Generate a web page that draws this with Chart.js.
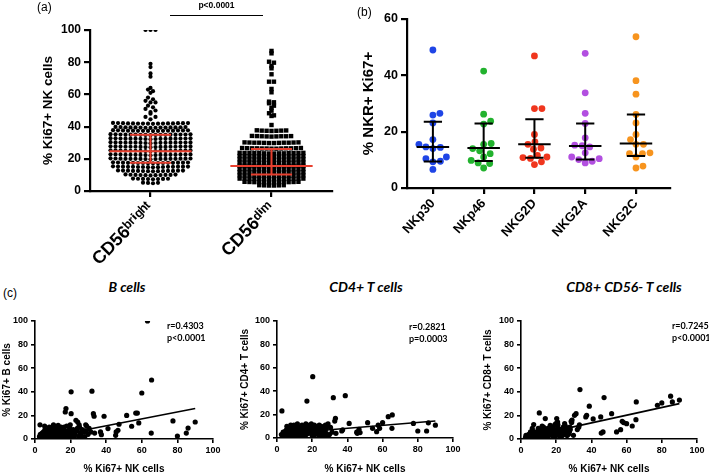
<!DOCTYPE html>
<html><head><meta charset="utf-8">
<script src="https://cdn.jsdelivr.net/npm/chart.js@4/dist/chart.umd.min.js"></script>
<style>
html,body{margin:0;padding:0;background:#fff;}
#wrap{position:relative;width:709px;height:474px;overflow:hidden;background:#fff;font-family:"Liberation Sans",Arial,sans-serif;color:#000;}
canvas{position:absolute;}
.lbl{position:absolute;white-space:nowrap;line-height:1;}
.ttl{font-family:Lato,"Open Sans",sans-serif;font-weight:bold;font-style:italic;font-size:14px;text-align:center;}
.rp{font-family:Lato,"Open Sans",sans-serif;font-weight:bold;font-size:9px;line-height:12px;}
</style></head><body>
<div id="wrap">
<canvas id="cA" width="345" height="270" style="left:0;top:0"></canvas>
<canvas id="cB" width="359" height="240" style="left:350px;top:0"></canvas>
<canvas id="cC1" width="235" height="169" style="left:0;top:305px"></canvas>
<canvas id="cC2" width="235" height="169" style="left:235px;top:305px"></canvas>
<canvas id="cC3" width="239" height="169" style="left:470px;top:305px"></canvas>
<div class="lbl" style="left:37px;top:1px;font-size:12px">(a)</div>
<div class="lbl" style="left:170px;top:1px;width:93px;text-align:center;font-size:8.5px;font-weight:bold">p&lt;0.0001</div>
<div style="position:absolute;left:170px;top:15px;width:93px;height:0;border-top:1.3px solid #000"></div>
<div class="lbl" style="left:357px;top:6px;font-size:12px">(b)</div>
<div class="lbl" style="left:3px;top:287px;font-size:12px">(c)</div>
<div class="lbl ttl" style="left:27px;width:200px;top:280px">B cells</div>
<div class="lbl ttl" style="left:266px;width:200px;top:280px">CD4+ T cells</div>
<div class="lbl ttl" style="left:524px;width:200px;top:280px">CD8+ CD56- T cells</div>
<div class="lbl rp" style="left:167px;top:320px">r=0.4303<br>p&lt;0.0001</div>
<div class="lbl rp" style="left:409px;top:321px">r=0.2821<br>p=0.0003</div>
<div class="lbl rp" style="left:672px;top:320px">r=0.7245<br>p&lt;0.0001</div>
</div>
<script>
// ---------------- DATA ----------------
// (a) % Ki67+ NK cells  (CD56 with superscript "bright" / "dim")
const catsA = ['CD56\u1D47\u02B3\u2071\u1D4D\u02B0\u1D57', 'CD56\u1D48\u2071\u1D50'];
const brightVals = [
 100,100,100,79,77,73,71,64,63,62,61,58,57,56,55,55,53,52,51,50,49,48,46,46,44.5,
 41.7,41.8,41.9,42,42,42.1,42.2,42.3,41.8,41.9,42,42.1,42.2,41.9,42,42.1,
 39.2,39.3,39.4,39.5,39.5,39.6,39.7,39.8,39.3,39.4,39.5,39.6,39.7,39.5,39.4,
 37.2,37.3,37.4,37.5,37.5,37.6,37.7,37.8,37.3,37.4,37.5,37.6,37.7,37.5,37.4,37.6,
 34.7,34.8,34.9,35,35,35.1,35.2,35.3,34.8,34.9,35,35.1,35.2,35,34.9,35.1,35,
 32.2,32.3,32.4,32.5,32.5,32.6,32.7,32.8,32.3,32.4,32.5,32.6,32.7,32.5,32.4,32.6,32.5,
 29.7,29.8,29.9,30,30,30.1,30.2,30.3,29.8,29.9,30,30.1,30.2,30,29.9,30.1,30,
 27.2,27.3,27.4,27.5,27.5,27.6,27.7,27.8,27.3,27.4,27.5,27.6,27.7,27.5,27.4,27.6,27.5,
 24.7,24.8,24.9,25,25,25.1,25.2,25.3,24.8,24.9,25,25.1,25.2,25,24.9,25.1,25,
 22.2,22.3,22.4,22.5,22.5,22.6,22.7,22.8,22.3,22.4,22.5,22.6,22.7,22.5,22.4,22.6,22.5,
 19.7,19.8,19.9,20,20,20.1,20.2,20.3,19.8,19.9,20,20.1,20.2,20,19.9,20.1,20,
 17.2,17.3,17.4,17.5,17.5,17.6,17.7,17.8,17.3,17.4,17.5,17.6,17.7,17.5,17.4,17.6,
 14.7,14.8,14.9,15,15,15.1,15.2,15.3,14.8,14.9,15,15.1,15.2,15,14.9,15.1,
 12.2,12.3,12.4,12.5,12.5,12.6,12.7,12.8,12.3,12.4,12.5,12.6,12.7,12.5,
 9.7,9.8,9.9,10,10,10.1,10.2,10.3,9.8,9.9,10,
 7.3,7.4,7.5,7.5,7.6,7.7,7.4,7.6,
 4.8,5,5.1,5.2
];
const dimVals = [
 87,85.5,80.3,79.7,77.6,76.2,72.5,67.9,67.9,63.4,61.3,55.5,55.1,54.5,53,51.7,49.9,48.3,47,46.6,41,
 37.3,37.4,37.5,37.5,37.6,37.7,37.4,
 33.8,33.9,34,34,34.1,34.2,33.9,34.1,34,
 29.8,29.9,30,30,30.1,30.2,29.8,29.9,30,30.1,30.2,30,
 26.3,26.4,26.5,26.5,26.6,26.7,26.3,26.4,26.5,26.6,26.7,26.5,26.4,
 23.3,23.4,23.5,23.5,23.6,23.7,23.3,23.4,23.5,23.6,23.7,23.5,23.4,23.6,
 21.3,21.4,21.5,21.5,21.6,21.7,21.3,21.4,21.5,21.6,21.7,21.5,21.4,21.6,
 19.3,19.4,19.5,19.5,19.6,19.7,19.3,19.4,19.5,19.6,19.7,19.5,19.4,19.6,
 17.3,17.4,17.5,17.5,17.6,17.7,17.3,17.4,17.5,17.6,17.7,17.5,17.4,17.6,
 15.3,15.4,15.5,15.5,15.6,15.7,15.3,15.4,15.5,15.6,15.7,15.5,15.4,15.6,
 13.3,13.4,13.5,13.5,13.6,13.7,13.3,13.4,13.5,13.6,13.7,13.5,13.4,13.6,
 11.3,11.4,11.5,11.5,11.6,11.7,11.3,11.4,11.5,11.6,11.7,11.5,11.4,11.6,
 9.3,9.4,9.5,9.5,9.6,9.7,9.3,9.4,9.5,9.6,9.7,9.5,9.4,9.6,
 7.3,7.4,7.5,7.5,7.6,7.7,7.3,7.4,7.5,7.6,7.7,7.5,7.4,7.6,
 5.3,5.4,5.5,5.5,5.6,5.7,5.3,5.4,5.5,5.6,5.7,5.5,
 3.4,3.5,3.5,3.6,3.4,3.6
];
const medA = [24.7, 15.6];
const q1A = [17.5, 10.3];
const q3A = [34.9, 26.1];

// (b) % NKR+ Ki67+
const catsB = ['NKp30', 'NKp46', 'NKG2D', 'NKG2A', 'NKG2C'];
const nkp30 = [49, 26.5, 25.9, 23.1, 17.2, 15.5, 14.6, 14.4, 14.0, 11, 10.4, 9.5, 9.3, 6.6];
const nkp46 = [41.5, 26.2, 23.7, 22.7, 15.8, 15.5, 14, 13.2, 12.2, 11, 9.8, 8.9, 8.7, 7.1];
const nkg2d = [46.9, 28.2, 28.2, 19, 16.4, 15.5, 14.2, 13.8, 11.6, 11, 10.8, 10.5, 9.3, 8.3];
const nkg2a = [47.8, 33.8, 26.5, 22.9, 17.8, 15.2, 15, 14.6, 12.5, 11, 10.4, 10.1, 9.5, 8.9];
const nkg2c = [53.7, 38.1, 33.3, 26.1, 23.1, 19, 17.2, 15.5, 15.5, 12.5, 12.2, 12.2, 11, 7.8, 7.1];
const medB = [14.6, 14.2, 15.5, 14.9, 15.8];
const q1B = [9.4, 9.6, 10.7, 10.1, 11.4];
const q3B = [23.5, 22.9, 24.4, 22.9, 26.1];
const colorsB = ['#1f45e6', '#22b22e', '#f0361e', '#b24fe0', '#f7941e'];

// (c) correlations, x = % Ki67+ NK cells
const nkX = [90,86,85,80,77.5,65.5,65.3,63.2,60,58.3,
 57.5,56.6,54.3,51.5,47.2,46.6,45.6,45.3,41,38.8,
 37.3,36.8,33.5,33.2,32.8,32,31.3,30.4,29.8,28.5,
 28,27.5,27,26.5,26,25.5,25,24.5,24,23.5,
 23,22.5,22,21.5,21,20.8,20.3,20.3,20,19.5,
 19,18.5,18,17.8,17.4,17,16.6,16.2,16,15.5,
 15,14.6,14.2,13.8,13.4,13,12.6,12.2,11.8,11.4,
 11,10.6,10.4,10,9.6,9.2,8.8,8.4,8,7.6,
 7.2,6.8,6.4,6,5.6,5.2,4.8,4.4,4,3.5,
 3,2.8,2.5,27.8,26.2,25.2,23.8,22.2,21.2,19.8,
 18.8,17.6,16.4,15.2,14,12.8,11.6,10.2,9,7.8,
 6.6,5.4,4.2,29,28.8,24.8,19.2,14.8,12,9.8];
const bCells = [14.4,9.3,5,2.5,15.3,50,5,100,39,13.6,
 22,22,10.8,20,12.5,7.4,6,3.1,8.8,19.3,
 3.7,6,5,19.3,21.5,40.5,6,9,4,12,
 2,6,1,8,3,5,10,2,14.4,7,
 15.9,4,1,8,3,6,40,21.5,5,9,
 2,7,4,11,25.8,22.9,6,3,8,1,
 5,10,2,7,4,11.5,1,6,3,9,
 5,2,12,4,8,1,6,3,10,2,
 5,7,1,4,8,3,6,2,5,1,
 4,12,2,7,1,4,9,6,2,12,
 5,1,10,7,3,9,2,11,3,9,
 3,11,0.5,11,7,12,0.5,4,7,0.5];
const cd4T = [11,13,6,6,12.5,19.7,8.3,18.2,13.1,8.3,
 11,5.4,8.3,13.1,4.6,7.4,4,5,12.5,36.2,
 7,6,4,16.8,14.5,34.5,5,9,3,10,
 4,11,2,6,9,3,7,5,11,4,
 8,6,10,3,7,5,52.4,8,2,12,
 6,9,4,7,11,31.6,3,10,5,8,
 2,6,11,4,7,3,9,5,2,10,
 6,4,8,3,11,5,2,7,4,9,
 3,6,8,2,10,4,6,1,3,5,
 2,23.1,3,8,1,10,2,7,11,4,
 10,5,12,1,9,6,12,1,8,11,
 1,7,4,12,1,1,9,3,2,6];
const cd8T = [33,31.4,36.3,30.6,28.6,31.4,16.4,11,13,13.9,
 15,7.9,6,21.5,35.1,6,5,18.7,17,27.8,
 20.1,18.7,41.9,12,10,8,21.5,20.1,3.1,15,
 8,6,4,9,5,7,4,6,10,3,
 5,8,4,6,12,14.4,17.3,5,3,7,
 4,9,6,3,8,5,11.6,4,6,2,
 7,3,5,17.3,4,2,6,3,8,1,
 4,2,22.1,5,2,3,6,1,4,2,
 12.2,3,9,5,2,1,3,4,2,1,
 2,3,1,10,3,11,7,2,9,13,
 2,10,6,9,7,10,6,7,4,5,
 7,6,3,16,14,13,12,1,11,9];
const fitX = [2.5, 90];
const fitB = [0.2, 25.8];
const fitCD4 = [3.6, 14.5];
const fitCD8 = [1.4, 30];

// ---------------- HELPERS ----------------
const FONT = "'Liberation Sans', 'DejaVu Sans'";
const RED = '#e8402f';

function rowOffsets(vals, bin, spacing) {
  const groups = {};
  vals.forEach((v, i) => { const k = Math.round(v / bin); (groups[k] = groups[k] || []).push(i); });
  const off = new Array(vals.length).fill(0);
  Object.values(groups).forEach(idx => {
    idx.sort((a, b) => vals[a] - vals[b]);
    const n = idx.length;
    idx.forEach((i, j) => {
      let slot;
      if (n % 2 === 1) slot = j === 0 ? 0 : (j % 2 === 1 ? (j + 1) / 2 : -j / 2);
      else { const m = Math.floor(j / 2); slot = (j % 2 === 0 ? 1 : -1) * (m + 0.5); }
      off[i] = slot * spacing;
    });
  });
  return off;
}
function swarmOffsets(vals, pxPerY, diam) {
  const placed = [];
  const order = vals.map((v, i) => i).sort((a, b) => vals[a] - vals[b]);
  const out = new Array(vals.length).fill(0);
  order.forEach(i => {
    const py = vals[i] * pxPerY;
    let best = 0;
    for (let k = 0; k < 400; k++) {
      const cands = k === 0 ? [0] : [k * 0.5, -k * 0.5];
      let found = null;
      for (const c of cands) {
        if (placed.every(p => Math.hypot(p.px - c, p.py - py) >= diam)) { found = c; break; }
      }
      if (found !== null) { best = found; break; }
    }
    placed.push({ px: best, py });
    out[i] = best;
  });
  return out;
}
function errorBars(centers, med, q1, q3, halfMed, halfCap) {
  const d = [];
  const gap = { x: null, y: null };
  centers.forEach((c, i) => {
    d.push({ x: c - halfMed, y: med[i] }, { x: c + halfMed, y: med[i] }, gap,
           { x: c, y: q1[i] }, { x: c, y: q3[i] }, gap,
           { x: c - halfCap, y: q1[i] }, { x: c + halfCap, y: q1[i] }, gap,
           { x: c - halfCap, y: q3[i] }, { x: c + halfCap, y: q3[i] }, gap);
  });
  return d;
}
function axis(o) {
  const a = {
    type: 'linear', min: o.min, max: o.max,
    afterFit: o.fit,
    ticks: { stepSize: o.step, color: '#000', font: { family: FONT, weight: 'bold', size: o.fs },
      padding: o.tp, autoSkip: false, maxRotation: o.rot || 0, minRotation: o.rot || 0,
      callback: o.cb || (v => v) },
    grid: { drawOnChartArea: false, drawTicks: true, tickLength: o.tl, tickWidth: o.lw,
      tickColor: '#000', color: '#000', lineWidth: o.lw },
    border: { display: true, color: '#000', width: o.lw },
    title: o.title ? { display: true, text: o.title, color: '#000',
      font: { family: FONT, weight: 'bold', size: o.tfs, lineHeight: o.tlh || 1.2 }, padding: o.tpad } : { display: false }
  };
  if (o.ticksAt) a.afterBuildTicks = s => { s.ticks = o.ticksAt.map(v => ({ value: v })); };
  return a;
}
const baseOpts = { responsive: false, animation: false, devicePixelRatio: 1,
  plugins: { legend: { display: false }, tooltip: { enabled: false } } };

// ---------------- PANEL A ----------------
const offBright = rowOffsets(brightVals, 2.5, 0.0413);
const offDim = rowOffsets(dimVals, 2, 0.0405);

new Chart(document.getElementById('cA'), {
  type: 'scatter',
  data: { datasets: [
    { data: errorBars([0, 1], medA, q1A, q3A, 0.34, 0.17), showLine: true, borderColor: RED, borderWidth: 2, pointRadius: 0, spanGaps: false, order: 0 },
    { data: brightVals.map((v, i) => ({ x: 0 + offBright[i], y: v })), pointStyle: 'circle', pointRadius: 2.1, backgroundColor: '#000', borderWidth: 0, order: 1 },
    { data: dimVals.map((v, i) => ({ x: 1 + offDim[i], y: v })), pointStyle: 'rect', pointRadius: 3.1, backgroundColor: '#000', borderWidth: 0, order: 1 }
  ] },
  options: Object.assign({}, baseOpts, {
    layout: { padding: { left: 0, top: 30, right: 13, bottom: 0 } },
    scales: {
      x: axis({ min: -0.5, max: 1.5, ticksAt: [0, 1], cb: v => catsA[v], fs: 18, tp: 1, tl: 6, lw: 2.2, rot: 46, fit: s => { s.height = 79; } }),
      y: axis({ min: 0, max: 100, step: 20, fs: 12, tp: 3, tl: 6, lw: 2.2, fit: s => { s.width = 90; },
        title: '% Ki67+ NK cells', tfs: 13.5, tpad: { top: 40, bottom: 0 } })
    }
  })
});

// ---------------- PANEL B ----------------
const groupsB = [nkp30, nkp46, nkg2d, nkg2a, nkg2c];
const pxPerXB = 50.8, pxPerYB = 2.81;
const dsB = groupsB.map((vals, gi) => {
  const off = swarmOffsets(vals, pxPerYB, 7.2);
  return { data: vals.map((v, i) => ({ x: gi + off[i] / pxPerXB, y: v })), pointStyle: 'circle',
    pointRadius: 3.4, backgroundColor: colorsB[gi], borderWidth: 0, order: 1 };
});
dsB.unshift({ data: errorBars([0, 1, 2, 3, 4], medB, q1B, q3B, 0.32, 0.18), showLine: true,
  borderColor: '#000', borderWidth: 2, pointRadius: 0, spanGaps: false, order: 0 });

new Chart(document.getElementById('cB'), {
  type: 'scatter',
  data: { datasets: dsB },
  options: Object.assign({}, baseOpts, {
    layout: { padding: { left: 0, top: 19, right: 39, bottom: 0 } },
    scales: {
      x: axis({ min: -0.51, max: 4.67, ticksAt: [0, 1, 2, 3, 4], cb: v => catsB[v], fs: 13, tp: 2, tl: 6, lw: 2.2, rot: 48, fit: s => { s.height = 52; } }),
      y: axis({ min: 0, max: 60, step: 20, fs: 12.5, tp: 3, tl: 6, lw: 2.2, fit: s => { s.width = 57; },
        title: '% NKR+ Ki67+', tfs: 15, tpad: { top: 10, bottom: 0 } })
    }
  })
});

// ---------------- PANEL C ----------------
function panelC(id, yVals, fitY, yTitle, yW, padR, padT, xH, tPad) {
  new Chart(document.getElementById(id), {
    type: 'scatter',
    data: { datasets: [
      { data: fitX.map((x, i) => ({ x, y: fitY[i] })), showLine: true, borderColor: '#000', borderWidth: 1.6, pointRadius: 0, order: 0 },
      { data: nkX.map((x, i) => ({ x, y: yVals[i] })), pointStyle: 'circle', pointRadius: 2.6, backgroundColor: '#000', borderWidth: 0, order: 1 }
    ] },
    options: Object.assign({}, baseOpts, {
      layout: { padding: { left: 0, top: padT, right: padR, bottom: 0 } },
      scales: {
        x: axis({ min: 0, max: 100, step: 20, fs: 9, tp: 2, tl: 4, lw: 1.6, fit: s => { s.height = xH; },
          title: '% Ki67+ NK cells', tfs: 10, tlh: 1, tpad: { top: 0, bottom: 0 } }),
        y: axis({ min: 0, max: 100, step: 20, fs: 9, tp: 3, tl: 4, lw: 1.6, fit: s => { s.width = yW; },
          title: yTitle, tfs: 10, tpad: { top: tPad, bottom: 0 } })
      }
    })
  });
}
panelC('cC1', bCells, fitB, '% Ki67+ B cells', 35, 22, 16, 35, 1);
panelC('cC2', cd4T, fitCD4, '% Ki67+ CD4+ T cells', 42, 17, 16, 36, 4);
panelC('cC3', cd8T, fitCD8, '% Ki67+ CD8+ T cells', 51, 12, 16, 35, 12);
</script>
</body></html>
